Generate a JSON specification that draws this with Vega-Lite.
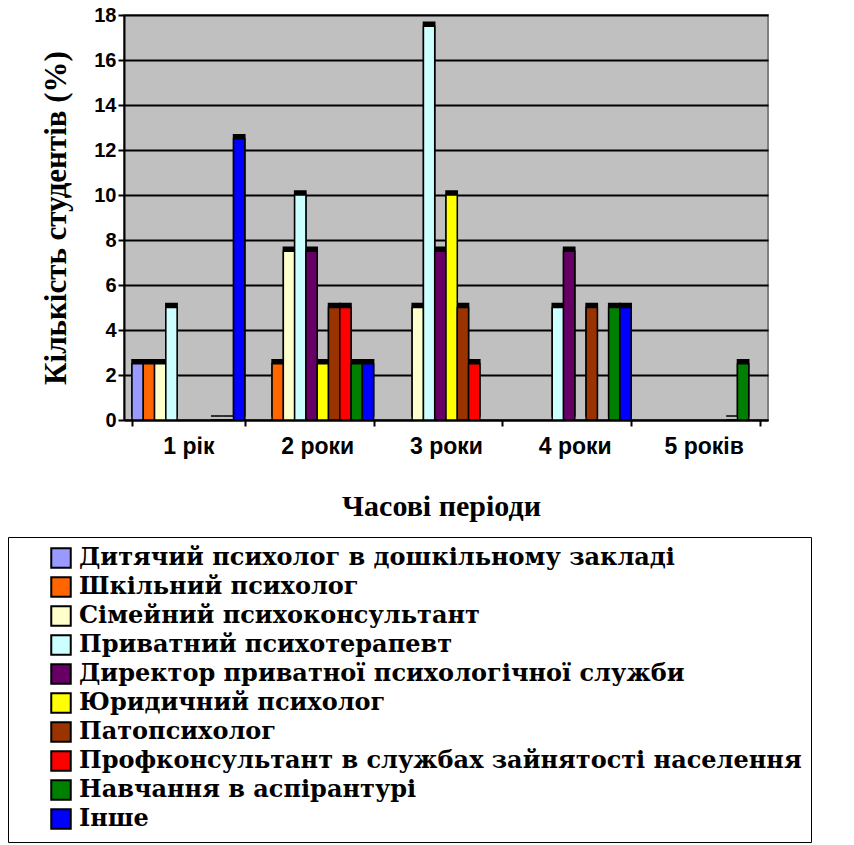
{
  "$schema": "https://vega.github.io/schema/vega-lite/v6.json",
  "autosize": "none",
  "width": 644,
  "height": 405,
  "padding": {"left": 124, "top": 15, "right": 86, "bottom": 425},
  "background": "white",
  "data": {
    "values": [
      {"period": "1 рік", "job": "Дитячий психолог в дошкільному закладі", "pct": 2.5},
      {"period": "1 рік", "job": "Шкільний психолог", "pct": 2.5},
      {"period": "1 рік", "job": "Сімейний психоконсультант", "pct": 2.5},
      {"period": "1 рік", "job": "Приватний психотерапевт", "pct": 5},
      {"period": "1 рік", "job": "Профконсультант в службах зайнятості населення", "pct": 0},
      {"period": "1 рік", "job": "Навчання в аспірантурі", "pct": 0},
      {"period": "1 рік", "job": "Інше", "pct": 12.5},
      {"period": "2 роки", "job": "Шкільний психолог", "pct": 2.5},
      {"period": "2 роки", "job": "Сімейний психоконсультант", "pct": 7.5},
      {"period": "2 роки", "job": "Приватний психотерапевт", "pct": 10},
      {"period": "2 роки", "job": "Директор приватної психологічної служби", "pct": 7.5},
      {"period": "2 роки", "job": "Юридичний психолог", "pct": 2.5},
      {"period": "2 роки", "job": "Патопсихолог", "pct": 5},
      {"period": "2 роки", "job": "Профконсультант в службах зайнятості населення", "pct": 5},
      {"period": "2 роки", "job": "Навчання в аспірантурі", "pct": 2.5},
      {"period": "2 роки", "job": "Інше", "pct": 2.5},
      {"period": "3 роки", "job": "Сімейний психоконсультант", "pct": 5},
      {"period": "3 роки", "job": "Приватний психотерапевт", "pct": 17.5},
      {"period": "3 роки", "job": "Директор приватної психологічної служби", "pct": 7.5},
      {"period": "3 роки", "job": "Юридичний психолог", "pct": 10},
      {"period": "3 роки", "job": "Патопсихолог", "pct": 5},
      {"period": "3 роки", "job": "Профконсультант в службах зайнятості населення", "pct": 2.5},
      {"period": "4 роки", "job": "Приватний психотерапевт", "pct": 5},
      {"period": "4 роки", "job": "Директор приватної психологічної служби", "pct": 7.5},
      {"period": "4 роки", "job": "Патопсихолог", "pct": 5},
      {"period": "4 роки", "job": "Навчання в аспірантурі", "pct": 5},
      {"period": "4 роки", "job": "Інше", "pct": 5},
      {"period": "5 років", "job": "Профконсультант в службах зайнятості населення", "pct": 0},
      {"period": "5 років", "job": "Навчання в аспірантурі", "pct": 2.5}
    ]
  },
  "encoding": {
    "x": {
      "field": "period",
      "type": "nominal",
      "sort": ["1 рік", "2 роки", "3 роки", "4 роки", "5 років"],
      "scale": {"paddingInner": 0.124, "paddingOuter": 0.062},
      "axis": {
        "title": "Часові періоди",
        "labelAngle": 0,
        "labelFont": "Liberation Sans",
        "labelFontWeight": "bold",
        "labelFontSize": 23,
        "labelColor": "black",
        "labelPadding": 9,
        "tickBand": "extent",
        "tickSize": 6,
        "tickColor": "black",
        "tickWidth": 2,
        "domainColor": "black",
        "domainWidth": 2,
        "titleFont": "Liberation Serif",
        "titleFontWeight": "bold",
        "titleFontSize": 30,
        "titleColor": "black",
        "titlePadding": 33,
        "titleX": 317
      }
    },
    "xOffset": {
      "field": "job",
      "type": "nominal",
      "sort": [
        "Дитячий психолог в дошкільному закладі",
        "Шкільний психолог",
        "Сімейний психоконсультант",
        "Приватний психотерапевт",
        "Директор приватної психологічної служби",
        "Юридичний психолог",
        "Патопсихолог",
        "Профконсультант в службах зайнятості населення",
        "Навчання в аспірантурі",
        "Інше"
      ],
      "scale": {
        "domain": [
          "Дитячий психолог в дошкільному закладі",
          "Шкільний психолог",
          "Сімейний психоконсультант",
          "Приватний психотерапевт",
          "Директор приватної психологічної служби",
          "Юридичний психолог",
          "Патопсихолог",
          "Профконсультант в службах зайнятості населення",
          "Навчання в аспірантурі",
          "Інше"
        ],
        "paddingInner": 0,
        "paddingOuter": 0
      }
    },
    "y": {
      "field": "pct",
      "type": "quantitative",
      "scale": {"domain": [0, 18], "nice": false},
      "axis": {
        "title": "Кількість студентів (%)",
        "values": [0, 2, 4, 6, 8, 10, 12, 14, 16, 18],
        "labelFont": "Liberation Sans",
        "labelFontWeight": "bold",
        "labelFontSize": 20,
        "labelColor": "black",
        "labelPadding": 2,
        "tickSize": 6,
        "tickColor": "black",
        "tickWidth": 2,
        "domainColor": "black",
        "domainWidth": 2,
        "grid": true,
        "gridColor": "black",
        "gridWidth": 2,
        "titleFont": "Liberation Serif",
        "titleFontWeight": "bold",
        "titleFontSize": 31,
        "titleColor": "black",
        "titlePadding": 21
      }
    },
    "color": {
      "field": "job",
      "type": "nominal",
      "scale": {
        "domain": [
          "Дитячий психолог в дошкільному закладі",
          "Шкільний психолог",
          "Сімейний психоконсультант",
          "Приватний психотерапевт",
          "Директор приватної психологічної служби",
          "Юридичний психолог",
          "Патопсихолог",
          "Профконсультант в службах зайнятості населення",
          "Навчання в аспірантурі",
          "Інше"
        ],
        "range": ["#9999FF", "#FF6600", "#FFFFCC", "#CCFFFF", "#660066", "#FFFF00", "#993300", "#FF0000", "#008000", "#0000FF"]
      },
      "legend": {
        "title": null,
        "orient": "none",
        "legendX": -116,
        "legendY": 522,
        "direction": "vertical",
        "padding": 9,
        "strokeColor": "black",
        "fillColor": "white",
        "symbolType": "square",
        "symbolSize": 380,
        "symbolStrokeColor": "black",
        "symbolStrokeWidth": 2,
        "symbolOpacity": 1,
        "symbolOffset": 32,
        "labelFont": "DejaVu Serif",
        "labelFontWeight": "bold",
        "labelFontSize": 24,
        "labelColor": "black",
        "labelLimit": 0,
        "labelOffset": 6,
        "rowPadding": 1
      }
    }
  },
  "layer": [
    {
      "mark": {"type": "bar", "xOffset": 4, "yOffset": -4, "stroke": "black", "strokeWidth": 1.5},
      "encoding": {"color": {"value": "black"}}
    },
    {
      "mark": {"type": "bar", "stroke": "black", "strokeWidth": 1.5, "opacity": 1}
    }
  ],
  "config": {
    "view": {"fill": "#C0C0C0", "stroke": "#808080", "strokeWidth": 2}
  }
}
